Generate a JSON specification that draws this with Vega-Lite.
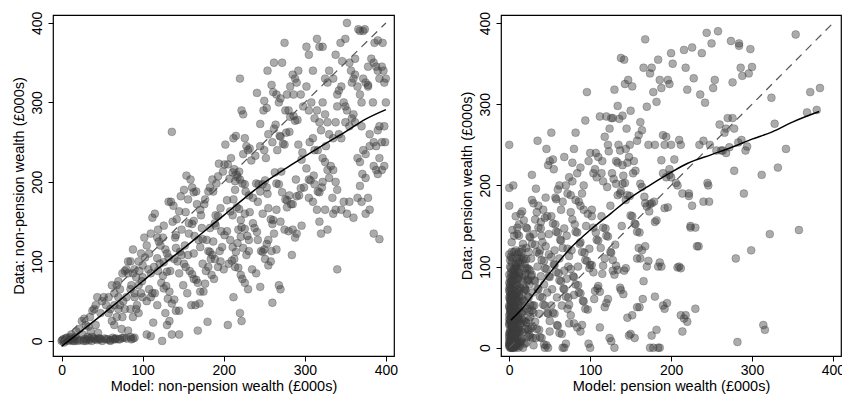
{
"$schema": "https://vega.github.io/schema/vega-lite/v6.json",
"padding": {"left": 10, "top": 10, "right": 0, "bottom": 0},
"background": "white",
"bounds": "flush",
"spacing": 107,
"config": {
  "view": {"stroke": "black", "strokeWidth": 1.2},
  "font": "Liberation Sans",
  "axis": {"domain": false, "grid": false, "tickColor": "black", "tickSize": 5, "tickWidth": 1, "labelColor": "black", "titleColor": "black", "labelFontSize": 14, "titleFontSize": 14.5, "titleFontWeight": "normal", "labelFont": "Liberation Sans", "titleFont": "Liberation Sans", "labelFlush": false, "labelOverlap": false},
  "axisY": {"labelAngle": 270, "labelAlign": "center", "labelBaseline": "bottom", "labelPadding": 4, "titlePadding": 4},
  "axisX": {"labelPadding": 2, "titlePadding": 2}
},
"datasets": {
"diag": [{"x":0,"y":0},{"x":400,"y":400}],
"lfit": [{"x":0,"y":-7},{"x":25,"y":13},{"x":50,"y":33},{"x":75,"y":54},{"x":100,"y":75},{"x":125,"y":96},{"x":150,"y":116},{"x":175,"y":137},{"x":200,"y":158},{"x":225,"y":179},{"x":250,"y":199},{"x":275,"y":216},{"x":300,"y":232},{"x":325,"y":248},{"x":350,"y":263},{"x":375,"y":279},{"x":400,"y":291}],
"rfit": [{"x":2,"y":34},{"x":15,"y":47},{"x":30,"y":66},{"x":50,"y":92},{"x":75,"y":122},{"x":100,"y":145},{"x":125,"y":165},{"x":150,"y":185},{"x":175,"y":201},{"x":200,"y":216},{"x":220,"y":227},{"x":250,"y":238},{"x":275,"y":247},{"x":300,"y":257},{"x":325,"y":266},{"x":350,"y":278},{"x":383,"y":291}],
"lpts": [
{"x":0,"y":0},{"x":2,"y":2},{"x":5,"y":3},{"x":8,"y":1},{"x":10,"y":5},{"x":12,"y":8},{"x":15,"y":3},{"x":18,"y":12},{"x":20,"y":0},{"x":22,"y":15},{"x":3,"y":-2},{"x":6,"y":4},{"x":14,"y":0},{"x":17,"y":5},
{"x":1,"y":1},{"x":4,"y":0},{"x":7,"y":2},{"x":9,"y":0},{"x":11,"y":3},{"x":13,"y":1},{"x":16,"y":0},{"x":19,"y":2},{"x":23,"y":1},{"x":27,"y":0},{"x":31,"y":2},{"x":34,"y":1},{"x":37,"y":0},{"x":41,"y":2},{"x":44,"y":1},{"x":47,"y":3},{"x":50,"y":0},{"x":53,"y":3},{"x":57,"y":2},{"x":60,"y":1},{"x":63,"y":4},{"x":67,"y":3},{"x":72,"y":2},{"x":77,"y":4},{"x":86,"y":2},{"x":90,"y":4},
{"x":25,"y":25},{"x":28,"y":28},{"x":30,"y":0},{"x":32,"y":5},{"x":35,"y":30},{"x":38,"y":5},{"x":40,"y":40},{"x":42,"y":45},{"x":44,"y":55},{"x":45,"y":10},{"x":48,"y":35},{"x":35,"y":3},{"x":30,"y":20},{"x":40,"y":3},{"x":28,"y":2},{"x":45,"y":3},{"x":50,"y":50},{"x":52,"y":55},{"x":48,"y":2},{"x":33,"y":18},{"x":38,"y":38},{"x":42,"y":20},{"x":26,"y":8},{"x":36,"y":12},
{"x":55,"y":2},{"x":60,"y":0},{"x":62,"y":25},{"x":65,"y":60},{"x":68,"y":70},{"x":70,"y":75},{"x":72,"y":65},{"x":75,"y":85},{"x":78,"y":88},{"x":80,"y":90},{"x":70,"y":40},{"x":72,"y":45},{"x":74,"y":15},{"x":66,"y":2},{"x":70,"y":2},{"x":75,"y":4},{"x":80,"y":3},{"x":82,"y":13},{"x":85,"y":5},{"x":88,"y":3},{"x":60,"y":40},{"x":58,"y":55},{"x":55,"y":45},{"x":65,"y":20},{"x":68,"y":30},{"x":78,"y":40},{"x":80,"y":55},{"x":82,"y":85},{"x":85,"y":65},{"x":62,"y":70},{"x":75,"y":30},{"x":70,"y":55},{"x":65,"y":45},{"x":58,"y":35},{"x":64,"y":2},{"x":76,"y":50},
{"x":85,"y":100},{"x":88,"y":115},{"x":90,"y":90},{"x":92,"y":80},{"x":95,"y":100},{"x":98,"y":110},{"x":100,"y":95},{"x":102,"y":130},{"x":105,"y":120},{"x":108,"y":110},{"x":110,"y":135},{"x":90,"y":60},{"x":92,"y":40},{"x":95,"y":35},{"x":98,"y":60},{"x":100,"y":55},{"x":105,"y":50},{"x":108,"y":65},{"x":110,"y":85},{"x":85,"y":40},{"x":88,"y":30},{"x":95,"y":70},{"x":100,"y":80},{"x":88,"y":85},{"x":96,"y":88},{"x":103,"y":105},{"x":107,"y":90},{"x":110,"y":55},{"x":112,"y":60},{"x":105,"y":8},{"x":110,"y":6},{"x":90,"y":55},{"x":93,"y":45},{"x":99,"y":75},{"x":82,"y":100},{"x":86,"y":70},
{"x":112,"y":155},{"x":115,"y":160},{"x":118,"y":130},{"x":120,"y":125},{"x":122,"y":120},{"x":125,"y":130},{"x":128,"y":115},{"x":130,"y":110},{"x":132,"y":175},{"x":135,"y":175},{"x":138,"y":170},{"x":136,"y":263},{"x":125,"y":82},{"x":119,"y":88},{"x":123,"y":73},{"x":126,"y":66},{"x":129,"y":69},{"x":131,"y":53},{"x":133,"y":62},{"x":136,"y":47},{"x":139,"y":52},{"x":141,"y":38},{"x":114,"y":93},{"x":118,"y":104},{"x":121,"y":97},{"x":126,"y":99},{"x":130,"y":87},{"x":134,"y":88},{"x":139,"y":103},{"x":141,"y":117},{"x":113,"y":23},{"x":124,"y":0},{"x":130,"y":20},{"x":133,"y":25},{"x":136,"y":8},{"x":145,"y":8},{"x":145,"y":38},{"x":115,"y":60},{"x":118,"y":45},{"x":128,"y":35},{"x":132,"y":105},{"x":126,"y":145},{"x":119,"y":140},{"x":137,"y":150},{"x":140,"y":130},
{"x":142,"y":153},{"x":145,"y":163},{"x":147,"y":182},{"x":151,"y":190},{"x":153,"y":162},{"x":156,"y":178},{"x":157,"y":148},{"x":161,"y":147},{"x":163,"y":151},{"x":164,"y":132},{"x":169,"y":127},{"x":171,"y":118},{"x":141,"y":133},{"x":146,"y":112},{"x":148,"y":108},{"x":151,"y":97},{"x":153,"y":93},{"x":156,"y":108},{"x":158,"y":88},{"x":161,"y":84},{"x":163,"y":78},{"x":166,"y":77},{"x":168,"y":73},{"x":171,"y":62},{"x":154,"y":208},{"x":159,"y":203},{"x":161,"y":193},{"x":163,"y":187},{"x":166,"y":188},{"x":167,"y":172},{"x":171,"y":165},{"x":145,"y":85},{"x":150,"y":70},{"x":155,"y":60},{"x":160,"y":45},{"x":165,"y":45},{"x":170,"y":47},{"x":168,"y":13},{"x":152,"y":120},{"x":157,"y":135},{"x":163,"y":110},{"x":148,"y":140},{"x":143,"y":100},
{"x":172,"y":158},{"x":176,"y":172},{"x":177,"y":178},{"x":181,"y":188},{"x":183,"y":193},{"x":186,"y":203},{"x":187,"y":188},{"x":191,"y":198},{"x":193,"y":207},{"x":194,"y":223},{"x":199,"y":213},{"x":201,"y":222},{"x":173,"y":142},{"x":174,"y":128},{"x":179,"y":127},{"x":181,"y":113},{"x":183,"y":112},{"x":184,"y":103},{"x":189,"y":148},{"x":190,"y":158},{"x":193,"y":157},{"x":196,"y":167},{"x":197,"y":138},{"x":201,"y":133},{"x":174,"y":97},{"x":178,"y":88},{"x":181,"y":93},{"x":185,"y":83},{"x":188,"y":78},{"x":189,"y":103},{"x":193,"y":93},{"x":195,"y":113},{"x":198,"y":118},{"x":175,"y":62},{"x":180,"y":24},{"x":186,"y":108},{"x":190,"y":145},{"x":200,"y":90},{"x":196,"y":100},{"x":183,"y":142},{"x":187,"y":125},{"x":177,"y":72},
{"x":202,"y":247},{"x":205,"y":222},{"x":207,"y":204},{"x":211,"y":212},{"x":213,"y":216},{"x":216,"y":209},{"x":219,"y":213},{"x":220,"y":203},{"x":223,"y":198},{"x":226,"y":197},{"x":227,"y":188},{"x":231,"y":183},{"x":212,"y":255},{"x":215,"y":258},{"x":220,"y":330},{"x":222,"y":290},{"x":224,"y":285},{"x":226,"y":255},{"x":228,"y":245},{"x":230,"y":240},{"x":204,"y":177},{"x":208,"y":163},{"x":211,"y":158},{"x":212,"y":178},{"x":216,"y":168},{"x":219,"y":166},{"x":221,"y":152},{"x":222,"y":143},{"x":226,"y":141},{"x":229,"y":132},{"x":231,"y":127},{"x":204,"y":138},{"x":208,"y":127},{"x":211,"y":118},{"x":213,"y":103},{"x":215,"y":112},{"x":217,"y":123},{"x":221,"y":131},{"x":224,"y":117},{"x":228,"y":108},{"x":231,"y":113},{"x":206,"y":97},{"x":210,"y":101},{"x":214,"y":93},{"x":218,"y":92},{"x":221,"y":83},{"x":223,"y":78},{"x":226,"y":73},{"x":205,"y":20},{"x":212,"y":55},{"x":220,"y":35},{"x":222,"y":25},{"x":230,"y":65},{"x":218,"y":140},{"x":226,"y":160},{"x":214,"y":190},{"x":209,"y":230},{"x":224,"y":235},{"x":217,"y":206},{"x":214,"y":201},
{"x":232,"y":242},{"x":234,"y":227},{"x":239,"y":233},{"x":240,"y":198},{"x":243,"y":197},{"x":245,"y":188},{"x":248,"y":197},{"x":251,"y":202},{"x":253,"y":193},{"x":255,"y":167},{"x":258,"y":153},{"x":261,"y":152},{"x":232,"y":162},{"x":236,"y":148},{"x":238,"y":142},{"x":241,"y":137},{"x":242,"y":127},{"x":246,"y":113},{"x":248,"y":112},{"x":251,"y":103},{"x":253,"y":122},{"x":255,"y":127},{"x":259,"y":113},{"x":260,"y":147},{"x":241,"y":312},{"x":245,"y":273},{"x":249,"y":290},{"x":250,"y":302},{"x":253,"y":293},{"x":254,"y":340},{"x":259,"y":322},{"x":261,"y":313},{"x":245,"y":245},{"x":250,"y":240},{"x":255,"y":260},{"x":260,"y":250},{"x":235,"y":90},{"x":240,"y":85},{"x":245,"y":68},{"x":250,"y":115},{"x":255,"y":95},{"x":260,"y":48},{"x":242,"y":175},{"x":248,"y":160},{"x":254,"y":185},{"x":258,"y":100},{"x":236,"y":180},{"x":252,"y":230},
{"x":262,"y":350},{"x":265,"y":310},{"x":268,"y":300},{"x":270,"y":305},{"x":272,"y":350},{"x":275,"y":375},{"x":278,"y":310},{"x":280,"y":290},{"x":282,"y":320},{"x":285,"y":335},{"x":288,"y":330},{"x":290,"y":325},{"x":292,"y":340},{"x":295,"y":310},{"x":298,"y":295},{"x":262,"y":267},{"x":264,"y":272},{"x":269,"y":258},{"x":270,"y":257},{"x":273,"y":248},{"x":275,"y":247},{"x":277,"y":262},{"x":281,"y":263},{"x":282,"y":282},{"x":286,"y":283},{"x":288,"y":277},{"x":291,"y":278},{"x":292,"y":247},{"x":296,"y":228},{"x":297,"y":237},{"x":263,"y":212},{"x":265,"y":198},{"x":268,"y":197},{"x":271,"y":213},{"x":272,"y":187},{"x":276,"y":178},{"x":278,"y":177},{"x":281,"y":183},{"x":283,"y":172},{"x":285,"y":172},{"x":289,"y":203},{"x":290,"y":182},{"x":293,"y":183},{"x":295,"y":192},{"x":299,"y":193},{"x":265,"y":165},{"x":268,"y":70},{"x":270,"y":65},{"x":275,"y":140},{"x":280,"y":138},{"x":285,"y":140},{"x":288,"y":130},{"x":290,"y":135},{"x":265,"y":115},{"x":270,"y":150},{"x":278,"y":168},{"x":284,"y":108},{"x":296,"y":145},{"x":262,"y":135},{"x":266,"y":240},{"x":276,"y":290},{"x":286,"y":310},
{"x":302,"y":370},{"x":305,"y":360},{"x":310,"y":340},{"x":315,"y":380},{"x":318,"y":370},{"x":322,"y":370},{"x":325,"y":330},{"x":328,"y":325},{"x":330,"y":340},{"x":335,"y":330},{"x":338,"y":360},{"x":340,"y":310},{"x":302,"y":320},{"x":305,"y":290},{"x":308,"y":300},{"x":310,"y":255},{"x":312,"y":280},{"x":315,"y":290},{"x":318,"y":275},{"x":320,"y":265},{"x":322,"y":300},{"x":325,"y":285},{"x":328,"y":275},{"x":330,"y":260},{"x":335,"y":255},{"x":338,"y":275},{"x":340,"y":295},{"x":302,"y":217},{"x":305,"y":203},{"x":307,"y":202},{"x":311,"y":208},{"x":312,"y":197},{"x":316,"y":188},{"x":318,"y":187},{"x":321,"y":193},{"x":322,"y":230},{"x":325,"y":225},{"x":328,"y":215},{"x":330,"y":205},{"x":335,"y":215},{"x":338,"y":200},{"x":340,"y":190},{"x":305,"y":180},{"x":310,"y":175},{"x":315,"y":165},{"x":318,"y":150},{"x":320,"y":135},{"x":322,"y":200},{"x":325,"y":165},{"x":328,"y":140},{"x":332,"y":220},{"x":335,"y":160},{"x":338,"y":165},{"x":340,"y":90},{"x":312,"y":240},{"x":306,"y":250},{"x":316,"y":240},{"x":326,"y":245},{"x":334,"y":180},
{"x":342,"y":315},{"x":345,"y":320},{"x":348,"y":300},{"x":350,"y":295},{"x":352,"y":290},{"x":355,"y":350},{"x":358,"y":325},{"x":360,"y":330},{"x":362,"y":335},{"x":365,"y":320},{"x":368,"y":310},{"x":370,"y":300},{"x":372,"y":330},{"x":375,"y":325},{"x":378,"y":320},{"x":380,"y":245},{"x":382,"y":355},{"x":385,"y":350},{"x":388,"y":345},{"x":390,"y":340},{"x":392,"y":330},{"x":395,"y":345},{"x":398,"y":325},{"x":400,"y":330},{"x":342,"y":260},{"x":345,"y":255},{"x":350,"y":275},{"x":355,"y":270},{"x":358,"y":280},{"x":360,"y":285},{"x":362,"y":275},{"x":365,"y":230},{"x":368,"y":225},{"x":370,"y":270},{"x":372,"y":240},{"x":375,"y":235},{"x":378,"y":322},{"x":380,"y":260},{"x":385,"y":250},{"x":388,"y":245},{"x":390,"y":265},{"x":392,"y":270},{"x":395,"y":250},{"x":398,"y":270},{"x":345,"y":165},{"x":348,"y":175},{"x":352,"y":160},{"x":355,"y":175},{"x":360,"y":155},{"x":365,"y":180},{"x":370,"y":175},{"x":375,"y":160},{"x":378,"y":180},{"x":380,"y":165},{"x":385,"y":220},{"x":388,"y":215},{"x":390,"y":210},{"x":392,"y":230},{"x":395,"y":215},{"x":398,"y":220},{"x":385,"y":135},{"x":392,"y":128},{"x":375,"y":205},{"x":368,"y":195},{"x":400,"y":300},{"x":396,"y":375},{"x":390,"y":378},{"x":386,"y":375},{"x":372,"y":390},{"x":368,"y":390},{"x":378,"y":345},{"x":384,"y":300},{"x":362,"y":355},{"x":357,"y":340},{"x":346,"y":352},{"x":344,"y":375},{"x":350,"y":380},{"x":397,"y":340},{"x":399,"y":250},{"x":371,"y":210},{"x":352,"y":400},{"x":366,"y":392},{"x":374,"y":392}
],
"rpts": [
{"x":0,"y":250},{"x":0,"y":197},{"x":0,"y":175},{"x":0,"y":115},{"x":1,"y":100},{"x":2,"y":98},{"x":0,"y":80},{"x":1,"y":75},{"x":2,"y":72},{"x":0,"y":70},{"x":3,"y":65},{"x":1,"y":60},{"x":4,"y":55},{"x":0,"y":50},{"x":2,"y":45},{"x":3,"y":40},{"x":1,"y":35},{"x":0,"y":30},{"x":4,"y":25},{"x":2,"y":20},{"x":0,"y":15},{"x":3,"y":10},{"x":1,"y":5},{"x":0,"y":2},{"x":2,"y":0},{"x":4,"y":0},{"x":0,"y":3},{"x":2,"y":8},{"x":4,"y":12},{"x":1,"y":18},{"x":3,"y":22},{"x":0,"y":28},{"x":2,"y":33},{"x":4,"y":38},{"x":1,"y":42},{"x":3,"y":48},{"x":0,"y":52},{"x":2,"y":58},{"x":4,"y":62},{"x":1,"y":68},{"x":5,"y":200},{"x":3,"y":118},
{"x":8,"y":162},{"x":10,"y":140},{"x":12,"y":138},{"x":14,"y":165},{"x":6,"y":118},{"x":8,"y":120},{"x":10,"y":115},{"x":12,"y":110},{"x":15,"y":118},{"x":6,"y":97},{"x":8,"y":88},{"x":10,"y":86},{"x":13,"y":79},{"x":14,"y":73},{"x":5,"y":71},{"x":7,"y":63},{"x":9,"y":61},{"x":11,"y":53},{"x":13,"y":51},{"x":15,"y":43},{"x":6,"y":42},{"x":8,"y":33},{"x":10,"y":31},{"x":12,"y":23},{"x":14,"y":21},{"x":5,"y":15},{"x":7,"y":10},{"x":9,"y":5},{"x":11,"y":0},{"x":13,"y":2},{"x":15,"y":8},{"x":6,"y":28},{"x":8,"y":48},{"x":10,"y":68},{"x":12,"y":88},{"x":14,"y":100},{"x":7,"y":78},{"x":9,"y":18},{"x":11,"y":38},{"x":13,"y":62},{"x":15,"y":30},{"x":5,"y":55},{"x":14,"y":10},{"x":10,"y":148},{"x":12,"y":152},
{"x":1,"y":5},{"x":2,"y":12},{"x":3,"y":18},{"x":4,"y":25},{"x":1,"y":32},{"x":2,"y":38},{"x":3,"y":45},{"x":4,"y":52},{"x":1,"y":58},{"x":2,"y":65},{"x":3,"y":72},{"x":4,"y":78},{"x":5,"y":3},{"x":6,"y":9},{"x":7,"y":12},{"x":8,"y":22},{"x":9,"y":24},{"x":10,"y":34},{"x":11,"y":38},{"x":12,"y":48},{"x":5,"y":52},{"x":6,"y":54},{"x":7,"y":64},{"x":8,"y":66},{"x":9,"y":77},{"x":10,"y":78},{"x":1,"y":85},{"x":2,"y":92},{"x":3,"y":105},{"x":4,"y":110},{"x":0,"y":18},{"x":0,"y":40},{"x":0,"y":62},{"x":1,"y":0},{"x":3,"y":0},{"x":5,"y":0},{"x":7,"y":0},{"x":9,"y":2},{"x":11,"y":4},{"x":13,"y":7},{"x":16,"y":11},{"x":17,"y":19},{"x":20,"y":23},{"x":21,"y":31},{"x":24,"y":34},{"x":25,"y":44},{"x":28,"y":46},{"x":14,"y":57},{"x":16,"y":60},{"x":18,"y":70},{"x":20,"y":71},{"x":22,"y":83},{"x":24,"y":84},{"x":26,"y":95},{"x":12,"y":70},{"x":16,"y":90},{"x":20,"y":98},{"x":6,"y":22},{"x":8,"y":34},{"x":4,"y":6},{"x":2,"y":48},{"x":6,"y":44},{"x":10,"y":12},{"x":12,"y":20},{"x":14,"y":30},{"x":16,"y":35},{"x":18,"y":45},{"x":20,"y":52},{"x":3,"y":60},{"x":5,"y":64},{"x":7,"y":90},{"x":9,"y":100},{"x":11,"y":95},{"x":13,"y":105},{"x":15,"y":112},{"x":17,"y":108},{"x":19,"y":88},{"x":2,"y":2},{"x":4,"y":1},{"x":6,"y":1},{"x":8,"y":4},{"x":10,"y":8},{"x":0,"y":8},{"x":0,"y":12},{"x":1,"y":22},{"x":1,"y":45},{"x":2,"y":55},{"x":3,"y":30},{"x":3,"y":38},{"x":4,"y":42},{"x":5,"y":28},{"x":6,"y":32},
{"x":0,"y":5},{"x":1,"y":10},{"x":2,"y":15},{"x":3,"y":26},{"x":4,"y":33},{"x":0,"y":35},{"x":1,"y":48},{"x":2,"y":52},{"x":3,"y":57},{"x":4,"y":66},{"x":0,"y":73},{"x":1,"y":78},{"x":2,"y":82},{"x":3,"y":88},{"x":4,"y":95},{"x":0,"y":90},{"x":1,"y":108},{"x":2,"y":112},{"x":5,"y":20},{"x":6,"y":25},{"x":7,"y":30},{"x":8,"y":40},{"x":9,"y":45},{"x":10,"y":50},{"x":11,"y":58},{"x":12,"y":64},{"x":7,"y":5},{"x":8,"y":12},{"x":9,"y":15},{"x":10,"y":20},{"x":11,"y":26},{"x":12,"y":35},{"x":5,"y":36},{"x":6,"y":48},{"x":7,"y":52},{"x":8,"y":58},{"x":9,"y":68},{"x":10,"y":72},{"x":11,"y":85},{"x":12,"y":92},{"x":5,"y":82},{"x":6,"y":88},{"x":7,"y":96},{"x":8,"y":103},{"x":9,"y":110},{"x":10,"y":98},{"x":11,"y":105},{"x":12,"y":118},{"x":3,"y":130},{"x":6,"y":138},{"x":4,"y":145},{"x":8,"y":100},{"x":2,"y":28},{"x":4,"y":16},{"x":1,"y":64},{"x":3,"y":82},{"x":5,"y":90},{"x":7,"y":42},{"x":9,"y":37},{"x":11,"y":18},
{"x":16,"y":168},{"x":18,"y":157},{"x":21,"y":148},{"x":22,"y":147},{"x":25,"y":137},{"x":26,"y":136},{"x":28,"y":182},{"x":28,"y":213},{"x":30,"y":178},{"x":16,"y":122},{"x":18,"y":110},{"x":21,"y":109},{"x":22,"y":98},{"x":24,"y":97},{"x":27,"y":88},{"x":28,"y":90},{"x":31,"y":83},{"x":16,"y":82},{"x":19,"y":73},{"x":20,"y":72},{"x":23,"y":63},{"x":24,"y":62},{"x":26,"y":53},{"x":29,"y":52},{"x":30,"y":43},{"x":16,"y":42},{"x":18,"y":33},{"x":20,"y":32},{"x":23,"y":23},{"x":24,"y":22},{"x":26,"y":13},{"x":29,"y":12},{"x":30,"y":3},{"x":17,"y":0},{"x":19,"y":5},{"x":21,"y":6},{"x":23,"y":14},{"x":25,"y":16},{"x":27,"y":24},{"x":29,"y":26},{"x":18,"y":58},{"x":22,"y":48},{"x":26,"y":38},{"x":20,"y":92},{"x":24,"y":118},{"x":28,"y":128},{"x":30,"y":140},{"x":17,"y":128},{"x":25,"y":78},{"x":29,"y":68},{"x":19,"y":103},{"x":23,"y":82},{"x":27,"y":110},{"x":21,"y":123},
{"x":33,"y":196},{"x":35,"y":255},{"x":32,"y":158},{"x":34,"y":167},{"x":36,"y":148},{"x":39,"y":147},{"x":40,"y":138},{"x":42,"y":170},{"x":44,"y":160},{"x":46,"y":245},{"x":48,"y":225},{"x":50,"y":230},{"x":45,"y":185},{"x":47,"y":162},{"x":49,"y":140},{"x":32,"y":127},{"x":34,"y":118},{"x":37,"y":116},{"x":38,"y":120},{"x":40,"y":108},{"x":43,"y":107},{"x":44,"y":98},{"x":46,"y":97},{"x":49,"y":88},{"x":50,"y":87},{"x":32,"y":82},{"x":35,"y":73},{"x":36,"y":72},{"x":38,"y":63},{"x":41,"y":62},{"x":42,"y":53},{"x":44,"y":52},{"x":47,"y":43},{"x":48,"y":42},{"x":50,"y":33},{"x":32,"y":32},{"x":34,"y":23},{"x":37,"y":22},{"x":38,"y":13},{"x":40,"y":12},{"x":43,"y":4},{"x":44,"y":0},{"x":46,"y":3},{"x":48,"y":0},{"x":35,"y":100},{"x":39,"y":88},{"x":43,"y":78},{"x":47,"y":68},{"x":31,"y":52},{"x":37,"y":42},{"x":41,"y":130},{"x":45,"y":125},{"x":49,"y":115},{"x":33,"y":12},{"x":50,"y":20},{"x":36,"y":175},{"x":39,"y":155},
{"x":52,"y":265},{"x":54,"y":232},{"x":55,"y":220},{"x":57,"y":185},{"x":58,"y":183},{"x":60,"y":195},{"x":62,"y":200},{"x":64,"y":170},{"x":66,"y":180},{"x":68,"y":235},{"x":70,"y":200},{"x":72,"y":190},{"x":74,"y":210},{"x":52,"y":162},{"x":54,"y":153},{"x":57,"y":152},{"x":58,"y":143},{"x":60,"y":142},{"x":63,"y":133},{"x":64,"y":132},{"x":66,"y":123},{"x":68,"y":147},{"x":71,"y":138},{"x":72,"y":122},{"x":74,"y":113},{"x":52,"y":112},{"x":55,"y":103},{"x":56,"y":102},{"x":58,"y":93},{"x":61,"y":92},{"x":62,"y":83},{"x":64,"y":82},{"x":67,"y":73},{"x":68,"y":72},{"x":70,"y":63},{"x":73,"y":62},{"x":74,"y":53},{"x":52,"y":52},{"x":54,"y":43},{"x":56,"y":42},{"x":59,"y":28},{"x":60,"y":27},{"x":62,"y":18},{"x":65,"y":17},{"x":66,"y":0},{"x":68,"y":0},{"x":70,"y":5},{"x":72,"y":48},{"x":74,"y":30},{"x":56,"y":120},{"x":62,"y":110},{"x":68,"y":95},{"x":53,"y":72},{"x":59,"y":62},{"x":65,"y":52},{"x":71,"y":85},{"x":73,"y":100},
{"x":76,"y":188},{"x":78,"y":205},{"x":80,"y":245},{"x":82,"y":265},{"x":84,"y":215},{"x":86,"y":180},{"x":88,"y":175},{"x":90,"y":190},{"x":92,"y":170},{"x":94,"y":280},{"x":96,"y":315},{"x":98,"y":230},{"x":100,"y":240},{"x":76,"y":167},{"x":78,"y":158},{"x":81,"y":152},{"x":82,"y":143},{"x":84,"y":142},{"x":87,"y":128},{"x":88,"y":130},{"x":90,"y":118},{"x":93,"y":117},{"x":94,"y":108},{"x":96,"y":107},{"x":99,"y":98},{"x":100,"y":102},{"x":76,"y":97},{"x":79,"y":88},{"x":80,"y":87},{"x":82,"y":78},{"x":85,"y":77},{"x":86,"y":68},{"x":88,"y":67},{"x":91,"y":58},{"x":92,"y":57},{"x":94,"y":48},{"x":97,"y":47},{"x":98,"y":5},{"x":100,"y":0},{"x":76,"y":40},{"x":80,"y":30},{"x":84,"y":25},{"x":88,"y":20},{"x":90,"y":28},{"x":80,"y":65},{"x":85,"y":100},{"x":95,"y":150},{"x":92,"y":200},{"x":88,"y":222},{"x":78,"y":228},{"x":82,"y":182},{"x":97,"y":165},{"x":99,"y":122},{"x":77,"y":120},
{"x":102,"y":170},{"x":104,"y":215},{"x":106,"y":220},{"x":108,"y":210},{"x":110,"y":235},{"x":112,"y":285},{"x":114,"y":215},{"x":116,"y":205},{"x":118,"y":260},{"x":120,"y":285},{"x":122,"y":250},{"x":124,"y":270},{"x":126,"y":283},{"x":128,"y":283},{"x":130,"y":318},{"x":102,"y":162},{"x":104,"y":148},{"x":107,"y":142},{"x":108,"y":133},{"x":110,"y":132},{"x":113,"y":123},{"x":114,"y":162},{"x":116,"y":148},{"x":119,"y":147},{"x":120,"y":138},{"x":122,"y":137},{"x":125,"y":118},{"x":126,"y":117},{"x":128,"y":108},{"x":131,"y":127},{"x":102,"y":102},{"x":104,"y":93},{"x":106,"y":70},{"x":109,"y":73},{"x":110,"y":76},{"x":112,"y":69},{"x":115,"y":91},{"x":116,"y":101},{"x":118,"y":50},{"x":120,"y":55},{"x":122,"y":60},{"x":124,"y":12},{"x":126,"y":8},{"x":128,"y":95},{"x":130,"y":90},{"x":105,"y":60},{"x":112,"y":25},{"x":118,"y":110},{"x":125,"y":175},{"x":127,"y":215},{"x":129,"y":208},{"x":121,"y":198},{"x":107,"y":240},{"x":115,"y":230},{"x":123,"y":242},
{"x":132,"y":230},{"x":134,"y":298},{"x":136,"y":282},{"x":138,"y":357},{"x":140,"y":286},{"x":142,"y":355},{"x":144,"y":245},{"x":146,"y":228},{"x":148,"y":235},{"x":150,"y":292},{"x":152,"y":322},{"x":154,"y":230},{"x":156,"y":218},{"x":158,"y":255},{"x":160,"y":262},{"x":132,"y":202},{"x":134,"y":188},{"x":137,"y":190},{"x":138,"y":193},{"x":140,"y":202},{"x":143,"y":203},{"x":144,"y":182},{"x":146,"y":188},{"x":149,"y":187},{"x":150,"y":163},{"x":152,"y":162},{"x":155,"y":153},{"x":156,"y":152},{"x":158,"y":143},{"x":161,"y":142},{"x":132,"y":101},{"x":134,"y":96},{"x":137,"y":74},{"x":138,"y":71},{"x":141,"y":66},{"x":142,"y":95},{"x":144,"y":98},{"x":146,"y":37},{"x":148,"y":15},{"x":150,"y":17},{"x":152,"y":40},{"x":155,"y":12},{"x":158,"y":50},{"x":160,"y":123},{"x":135,"y":250},{"x":145,"y":270},{"x":130,"y":0},{"x":139,"y":150},{"x":141,"y":212},{"x":149,"y":250},{"x":153,"y":215},{"x":143,"y":325},{"x":147,"y":330},{"x":137,"y":243},{"x":158,"y":110},{"x":134,"y":228},{"x":140,"y":225},
{"x":162,"y":278},{"x":164,"y":268},{"x":166,"y":345},{"x":168,"y":380},{"x":170,"y":297},{"x":172,"y":250},{"x":174,"y":338},{"x":176,"y":345},{"x":178,"y":315},{"x":180,"y":250},{"x":182,"y":303},{"x":184,"y":355},{"x":186,"y":330},{"x":188,"y":320},{"x":190,"y":262},{"x":192,"y":250},{"x":194,"y":260},{"x":196,"y":330},{"x":198,"y":325},{"x":200,"y":363},{"x":162,"y":202},{"x":164,"y":198},{"x":167,"y":186},{"x":168,"y":178},{"x":170,"y":174},{"x":173,"y":168},{"x":174,"y":177},{"x":176,"y":178},{"x":179,"y":180},{"x":180,"y":155},{"x":182,"y":157},{"x":184,"y":100},{"x":186,"y":105},{"x":188,"y":100},{"x":190,"y":215},{"x":192,"y":172},{"x":194,"y":210},{"x":196,"y":173},{"x":198,"y":220},{"x":200,"y":210},{"x":162,"y":110},{"x":164,"y":120},{"x":166,"y":82},{"x":168,"y":125},{"x":170,"y":100},{"x":172,"y":107},{"x":174,"y":0},{"x":176,"y":15},{"x":178,"y":0},{"x":180,"y":63},{"x":182,"y":22},{"x":184,"y":0},{"x":186,"y":0},{"x":188,"y":231},{"x":190,"y":52},{"x":192,"y":48},{"x":195,"y":55},{"x":198,"y":213},{"x":200,"y":250},{"x":165,"y":60},{"x":161,"y":50},
{"x":202,"y":350},{"x":204,"y":232},{"x":206,"y":203},{"x":208,"y":200},{"x":210,"y":256},{"x":212,"y":250},{"x":214,"y":190},{"x":216,"y":367},{"x":218,"y":345},{"x":220,"y":318},{"x":222,"y":190},{"x":224,"y":150},{"x":226,"y":370},{"x":228,"y":332},{"x":230,"y":148},{"x":232,"y":125},{"x":234,"y":125},{"x":236,"y":312},{"x":238,"y":363},{"x":240,"y":255},{"x":242,"y":302},{"x":244,"y":388},{"x":246,"y":200},{"x":248,"y":250},{"x":250,"y":375},{"x":252,"y":320},{"x":254,"y":330},{"x":256,"y":243},{"x":258,"y":390},{"x":260,"y":275},{"x":208,"y":99},{"x":210,"y":100},{"x":212,"y":98},{"x":214,"y":20},{"x":216,"y":36},{"x":218,"y":40},{"x":220,"y":32},{"x":226,"y":175},{"x":224,"y":148},{"x":230,"y":48},{"x":235,"y":250},{"x":240,"y":180},{"x":245,"y":203},{"x":247,"y":180},{"x":212,"y":40},{"x":222,"y":187},
{"x":262,"y":243},{"x":264,"y":243},{"x":266,"y":265},{"x":268,"y":270},{"x":270,"y":283},{"x":272,"y":247},{"x":274,"y":378},{"x":276,"y":327},{"x":278,"y":218},{"x":280,"y":110},{"x":282,"y":7},{"x":284,"y":375},{"x":286,"y":345},{"x":288,"y":335},{"x":290,"y":190},{"x":292,"y":243},{"x":294,"y":248},{"x":296,"y":338},{"x":298,"y":368},{"x":300,"y":346},{"x":276,"y":283},{"x":283,"y":253},{"x":287,"y":256},{"x":299,"y":120},{"x":284,"y":372},{"x":278,"y":270},{"x":268,"y":240},
{"x":312,"y":213},{"x":314,"y":28},{"x":316,"y":22},{"x":322,"y":140},{"x":324,"y":308},{"x":328,"y":276},{"x":332,"y":222},{"x":342,"y":245},{"x":354,"y":386},{"x":358,"y":145},{"x":368,"y":290},{"x":372,"y":315},{"x":380,"y":293},{"x":384,"y":320}
]
},
"hconcat": [
{
 "width": 341, "height": 341,
 "layer": [
  {"data": {"name": "lpts"}, "mark": {"type": "point", "shape": "circle", "filled": true, "size": 62, "fill": "#3c3c3c", "fillOpacity": 0.43, "stroke": "#3c3c3c", "strokeOpacity": 0.5, "strokeWidth": 0.6},
   "encoding": {"x": {"field": "x", "type": "quantitative", "scale": {"domain": [-10.6, 410], "nice": false, "zero": false}, "axis": {"values": [0,100,200,300,400]}, "title": "Model: non-pension wealth (£000s)"},
                "y": {"field": "y", "type": "quantitative", "scale": {"domain": [-19, 410], "nice": false, "zero": false}, "axis": {"values": [0,100,200,300,400]}, "title": "Data: non-pension wealth (£000s)"}}},
  {"data": {"name": "diag"}, "mark": {"type": "line", "color": "#555555", "strokeWidth": 1.2, "strokeDash": [8, 6]},
   "encoding": {"x": {"field": "x", "type": "quantitative"}, "y": {"field": "y", "type": "quantitative"}}},
  {"data": {"name": "lfit"}, "mark": {"type": "line", "color": "black", "strokeWidth": 1.5, "interpolate": "monotone"},
   "encoding": {"x": {"field": "x", "type": "quantitative"}, "y": {"field": "y", "type": "quantitative"}}}
 ]
},
{
 "width": 340, "height": 341,
 "layer": [
  {"data": {"name": "rpts"}, "mark": {"type": "point", "shape": "circle", "filled": true, "size": 62, "fill": "#3c3c3c", "fillOpacity": 0.43, "stroke": "#3c3c3c", "strokeOpacity": 0.5, "strokeWidth": 0.6},
   "encoding": {"x": {"field": "x", "type": "quantitative", "scale": {"domain": [-10.2, 410], "nice": false, "zero": false}, "axis": {"values": [0,100,200,300,400]}, "title": "Model: pension wealth (£000s)"},
                "y": {"field": "y", "type": "quantitative", "scale": {"domain": [-10.2, 410], "nice": false, "zero": false}, "axis": {"values": [0,100,200,300,400]}, "title": "Data: pension wealth (£000s)"}}},
  {"data": {"name": "diag"}, "mark": {"type": "line", "color": "#555555", "strokeWidth": 1.2, "strokeDash": [8, 6]},
   "encoding": {"x": {"field": "x", "type": "quantitative"}, "y": {"field": "y", "type": "quantitative"}}},
  {"data": {"name": "rfit"}, "mark": {"type": "line", "color": "black", "strokeWidth": 1.5, "interpolate": "monotone"},
   "encoding": {"x": {"field": "x", "type": "quantitative"}, "y": {"field": "y", "type": "quantitative"}}}
 ]
}
]
}
